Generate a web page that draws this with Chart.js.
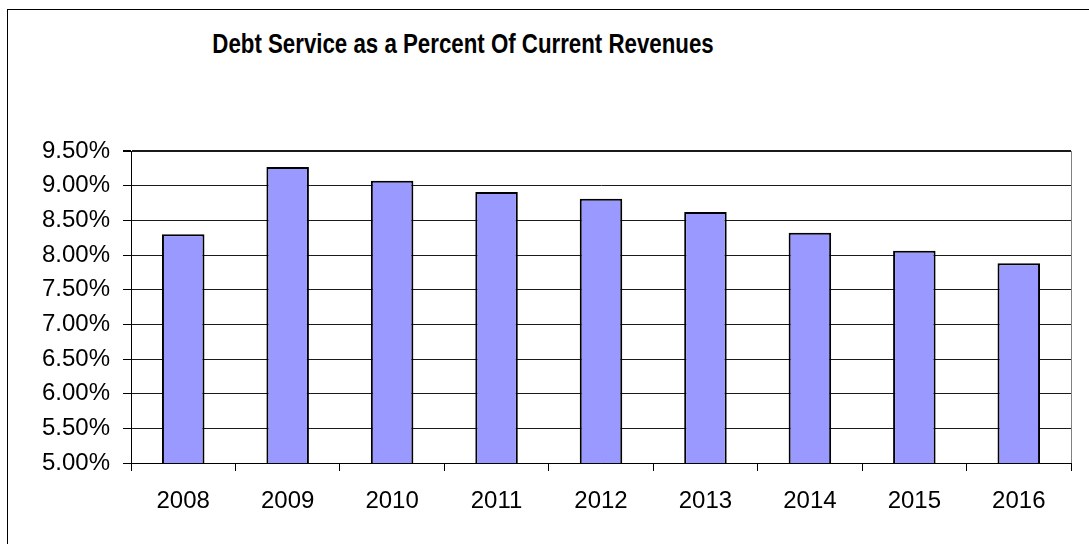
<!DOCTYPE html>
<html>
<head>
<meta charset="utf-8">
<script src="https://cdn.jsdelivr.net/npm/chart.js@4.4.1/dist/chart.umd.min.js"></script>
<style>
  html, body { margin: 0; padding: 0; background: #fff; overflow: hidden; }
  body { width: 1089px; height: 544px; position: relative; }
  #frame {
    position: absolute; left: 7px; top: 9px; width: 1200px; height: 700px;
    border: 1px solid #000; box-sizing: border-box;
  }
  #title {
    position: absolute; left: 463px; top: 44px;
    transform: translate(-50%, -50%) scaleX(0.825);
    font: bold 27px "Liberation Sans", Arial, sans-serif; color: #000; white-space: nowrap;
  }
  #wrap { position: absolute; left: 0; top: 0; width: 1089px; height: 544px; }
</style>
</head>
<body>
<div id="frame"></div>
<div id="title">Debt Service as a Percent Of Current Revenues</div>
<div id="wrap"><canvas id="c"></canvas></div>
<script>
// Fiscal years and debt service as a share of current revenues (percent)
const years = ['2008', '2009', '2010', '2011', '2012', '2013', '2014', '2015', '2016'];
const debtServicePct = [8.30, 9.27, 9.07, 8.91, 8.81, 8.62, 8.32, 8.06, 7.88];
const yMin = 5.0;
const yMax = 9.5;
const yStep = 0.5;

const FONT = '"Liberation Sans", Arial, sans-serif';

// Gray right edge of the plot area
const plotFrame = {
  id: 'plotFrame',
  afterDraw(chart) {
    const { ctx, chartArea: a } = chart;
    ctx.save();
    ctx.strokeStyle = '#808080';
    ctx.lineWidth = 1;
    ctx.beginPath();
    ctx.moveTo(Math.round(a.right) + 0.5, a.top);
    ctx.lineTo(Math.round(a.right) + 0.5, a.bottom);
    ctx.stroke();
    ctx.restore();
  }
};

new Chart(document.getElementById('c'), {
  type: 'bar',
  data: {
    labels: years,
    datasets: [{
      data: debtServicePct,
      backgroundColor: '#9999FF',
      borderColor: '#000',
      borderWidth: 2,
      borderSkipped: 'start',
      barPercentage: 0.407,
      categoryPercentage: 1.0
    }]
  },
  options: {
    responsive: true,
    maintainAspectRatio: false,
    animation: false,
    devicePixelRatio: 1,
    layout: { padding: { left: 0, right: 18, top: 151, bottom: 0 } },
    plugins: {
      legend: { display: false },
      title: { display: false },
      tooltip: { enabled: false }
    },
    scales: {
      x: {
        offset: true,
        grid: {
          offset: true,
          drawOnChartArea: false,
          drawTicks: true,
          tickLength: 8,
          tickColor: '#000',
          color: '#000'
        },
        border: { color: '#000', width: 1 },
        ticks: {
          color: '#000',
          padding: 16,
          maxRotation: 0,
          font: { family: FONT, size: 24 }
        },
        afterFit(s) { s.height = 81; }
      },
      y: {
        min: yMin,
        max: yMax,
        grid: {
          color: '#1a1a1a',
          lineWidth: (ctx) => (ctx.tick && ctx.tick.value === yMax ? 2 : 1),
          tickLength: 8,
          tickColor: '#000'
        },
        border: { color: '#000', width: 1 },
        ticks: {
          stepSize: yStep,
          color: '#000',
          padding: 13,
          font: { family: FONT, size: 24 },
          callback: (v) => v.toFixed(2) + '%'
        },
        afterFit(s) { s.width = 131; }
      }
    }
  },
  plugins: [plotFrame]
});
</script>
</body>
</html>
